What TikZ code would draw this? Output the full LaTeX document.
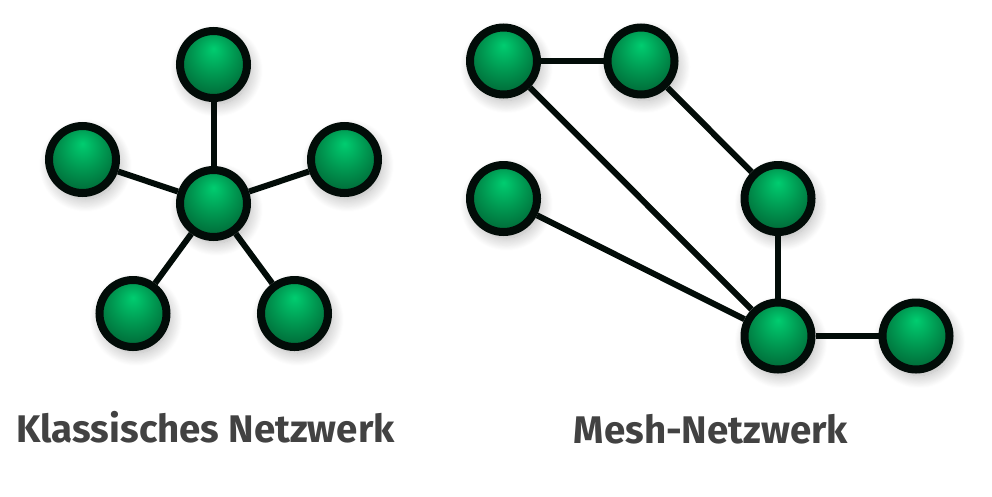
\documentclass[tikz,border=0pt]{standalone}
\usepackage{fontspec}
\setmainfont{Fira Sans}
\usetikzlibrary{shadows.blur}
\definecolor{ballcore}{RGB}{0,205,112}
\definecolor{ballmid}{RGB}{0,150,80}
\definecolor{ballrim}{RGB}{0,78,40}
\definecolor{ringcol}{RGB}{2,12,8}
\definecolor{textcol}{RGB}{66,66,66}
\pgfdeclareradialshading{meshball}{\pgfpoint{0bp}{12bp}}{
	color(0bp)=(ballcore); color(16bp)=(ballmid); color(38bp)=(ballrim); color(50bp)=(ballrim)}
\tikzset{
	meshnode/.style={circle, draw=ringcol, line width=8pt, minimum size=67pt, inner sep=0pt,
		shading=meshball, blur shadow={shadow xshift=3pt, shadow yshift=-6pt, shadow blur radius=13pt, shadow blur steps=16, shadow opacity=32}},
	meshlink/.style={line width=6pt, draw=ringcol},
	meshlabel/.style={text=textcol, font=\bfseries\fontsize{38.5}{38.5}\selectfont}
}
\begin{document}
\begin{tikzpicture}[x=1pt,y=-1pt]
	\useasboundingbox (0,0) rectangle (992,496);
	% star
	\node[meshnode] (c1) at (213.5,203.5) {};
	\node[meshnode] (s1) at (213.5,64.5) {};
	\node[meshnode] (s2) at (82.5,159.5) {};
	\node[meshnode] (s3) at (344.5,159.5) {};
	\node[meshnode] (s4) at (133,313.5) {};
	\node[meshnode] (s5) at (294.5,313.5) {};
	
	% mesh
	\node[meshnode] (m1) at (503.5,61) {};
	\node[meshnode] (m2) at (641,61) {};
	\node[meshnode] (m3) at (503.5,198.5) {};
	\node[meshnode] (m4) at (778,198.5) {};
	\node[meshnode] (m5) at (778,336) {};
	\node[meshnode] (m6) at (916,336) {};
	
	\draw[meshlink] (c1) -- (s1);
	\draw[meshlink] (c1) -- (s2);
	\draw[meshlink] (c1) -- (s3);
	\draw[meshlink] (c1) -- (s4);
	\draw[meshlink] (c1) -- (s5);
	
	\draw[meshlink] (m1) -- (m2);
	\draw[meshlink] (m1) -- (m5);
	\draw[meshlink] (m2) -- (m4);
	\draw[meshlink] (m3) -- (m5);
	\draw[meshlink] (m4) -- (m5);
	\draw[meshlink] (m5) -- (m6);
	
	\node[meshlabel] (l1) at (205.5,427) {Klassisches Netzwerk};
	\node[meshlabel] (l2) at (711,429) {Mesh-Netzwerk};
\end{tikzpicture}
\end{document}
